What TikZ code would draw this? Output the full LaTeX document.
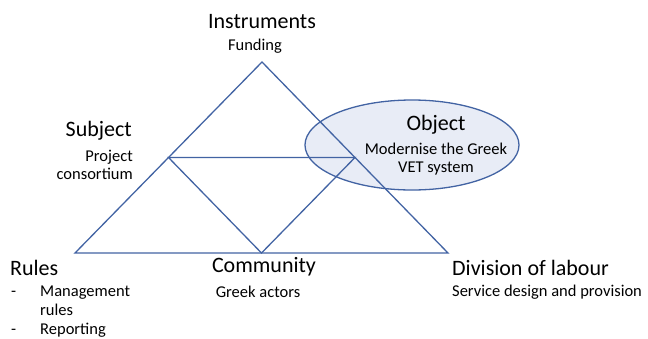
\documentclass[tikz,border=0pt]{standalone}
\usepackage{fontspec}
\setmainfont{Carlito}
\usetikzlibrary{shapes.geometric}
\definecolor{edgeblue}{HTML}{4263A3}
\definecolor{objfill}{HTML}{E8ECF6}
\tikzset{
  big/.style={font=\fontsize{22}{24}\selectfont, inner sep=0pt},
  small/.style={font=\fontsize{16.5}{18.5}\selectfont, inner sep=0pt},
  edge/.style={draw=edgeblue, line width=1.3pt, line join=miter},
}
\begin{document}
\begin{tikzpicture}[x=1pt,y=-1pt]
  \useasboundingbox (0,0) rectangle (648,338);
  % object ellipse, behind the lines
  \node[ellipse, draw=edgeblue, fill=objfill, line width=1.3pt,
        minimum width=214pt, minimum height=90pt, inner sep=0pt] (obj) at (412,145) {};
  % triangle corners and midpoints
  \coordinate (top) at (262,62);
  \coordinate (bl) at (75,253);
  \coordinate (br) at (448,253);
  \coordinate (lm) at (168.5,157.5);
  \coordinate (rm) at (355,157.5);
  \coordinate (bm) at (261.5,253);
  \draw[edge] (top) -- (br) -- (bl) -- cycle;
  \draw[edge] (lm) -- (rm) -- (bm) -- cycle;
  % labels
  \node[big] (instr) at (262,22) {Instruments};
  \node[small] (fund) at (255,46) {Funding};
  \node[big, anchor=east] (subj) at (132,131) {Subject};
  \node[small, anchor=east, align=right] (cons) at (133,165) {Project\\consortium};
  \node[big] (objt) at (436,125) {Object};
  \node[small, align=center] (mod) at (436,159) {Modernise the Greek\\VET system};
  \node[big, anchor=west] (rules) at (10,268) {Rules};
  \node[small, anchor=west] (d1) at (11,294) {-};
  \node[small, anchor=west, align=left] (mgmt) at (40,301) {Management\\rules};
  \node[small, anchor=west] (d2) at (11,332) {-};
  \node[small, anchor=west] (rep) at (40,330) {Reporting};
  \node[big] (comm) at (264,267) {Community};
  \node[small] (actors) at (258,292) {Greek actors};
  \node[big, anchor=west] (div) at (452,268) {Division of labour};
  \node[small, anchor=west] (serv) at (452,292) {Service design and provision};
\end{tikzpicture}
\end{document}
